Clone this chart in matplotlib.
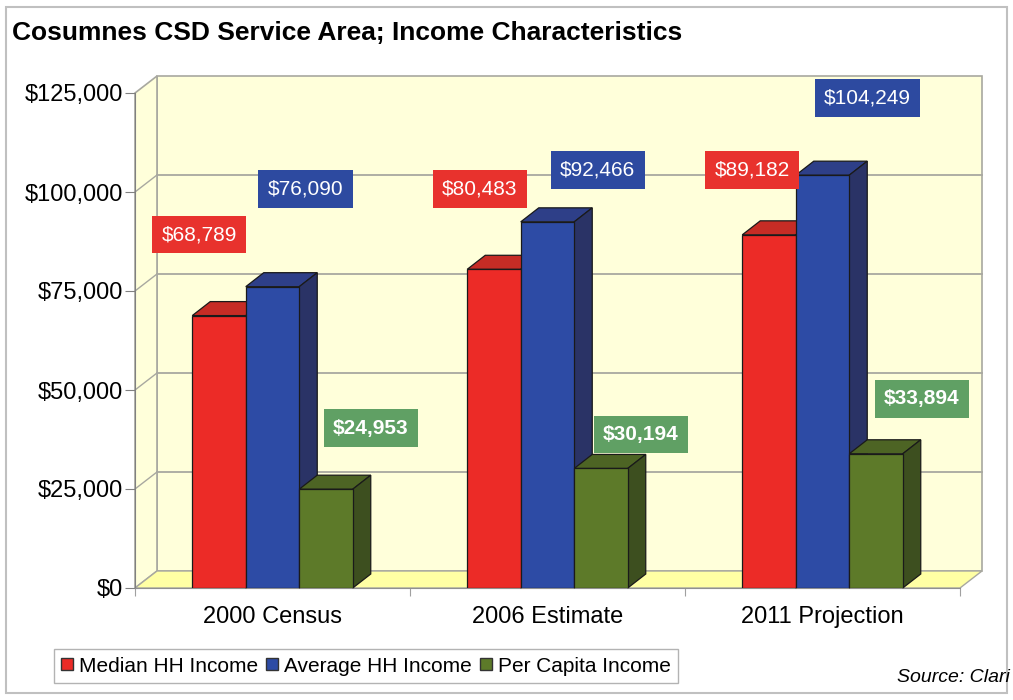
import matplotlib
matplotlib.use('Agg')
import matplotlib.pyplot as plt
from matplotlib.patches import Polygon, Patch, Rectangle
from matplotlib.ticker import FuncFormatter

plt.rcParams['font.family'] = ['Liberation Sans', 'DejaVu Sans']

# 数据
categories = ['2000 Census', '2006 Estimate', '2011 Projection']
series_names = ['Median HH Income', 'Average HH Income', 'Per Capita Income']
median_hh = [68789, 80483, 89182]
average_hh = [76090, 92466, 104249]
per_capita = [24953, 30194, 33894]
y_ticks = [0, 25000, 50000, 75000, 100000, 125000]

# 颜色：正面 / 顶面 / 侧面 / 标签框
front_colors = ['#EC2B27', '#2D4BA5', '#5D7A29']
top_colors = ['#C62C25', '#2E3F88', '#4D6424']
side_colors = ['#A52420', '#2A3366', '#3D4F1F']
label_colors = ['#E8322D', '#2D4AA0', '#60A064']

# 标签相对柱顶的偏移(像素)
label_offsets = [
    [(-20, 81), (-14, 80), (-17, 65)],
    [(33, 98), (50, 52), (45, 77)],
    [(45, 61), (40, 34), (46, 55)],
]

fig = plt.figure(figsize=(10.13, 7.0), dpi=100)
W, H = 1013, 700
ax = fig.add_axes([135 / W, 112 / H, 825 / W, 495 / H])
ax.set_xlim(0, 3)
ax.set_ylim(0, 125000)
ax.set_facecolor('none')

px_x = 3 / 825          # 每像素对应的x单位
px_y = 125000 / 495     # 每像素对应的金额

# 墙和底面的纵深
wdx, wdy = 22 * px_x, 17 * px_y
# 柱子的纵深
bdx, bdy = 18 * px_x, 14 * px_y

wall_color = '#FFFFDA'
floor_color = '#FFFFA4'
grid_color = '#A8A8A0'

# 背墙、侧墙、底面
ax.add_patch(Rectangle((wdx, wdy), 3, 125000, fc=wall_color, ec=grid_color,
                       lw=1.2, clip_on=False, zorder=0))
ax.add_patch(Polygon([(0, 0), (wdx, wdy), (wdx, 125000 + wdy), (0, 125000)],
                     closed=True, fc=wall_color, ec=grid_color, lw=1.2,
                     clip_on=False, zorder=0))
ax.add_patch(Polygon([(0, 0), (3, 0), (3 + wdx, wdy), (wdx, wdy)],
                     closed=True, fc=floor_color, ec=grid_color, lw=1.0,
                     clip_on=False, zorder=1))

# 网格线
for v in y_ticks[1:-1]:
    ax.plot([wdx, 3 + wdx], [v + wdy, v + wdy], color=grid_color, lw=1.3,
            clip_on=False, zorder=1)
    ax.plot([0, wdx], [v, v + wdy], color=grid_color, lw=1.0,
            clip_on=False, zorder=1)

# 三维柱子
bar_w = 53.5 * px_x
all_values = [median_hh, average_hh, per_capita]
for k, values in enumerate(all_values):
    z = 3 + k
    xs = [i + 0.5 + (k - 1) * bar_w for i in range(len(categories))]
    for x, v in zip(xs, values):
        x0 = x - bar_w / 2
        top = [(x0, v), (x0 + bar_w, v), (x0 + bar_w + bdx, v + bdy), (x0 + bdx, v + bdy)]
        side = [(x0 + bar_w, 0), (x0 + bar_w + bdx, bdy), (x0 + bar_w + bdx, v + bdy), (x0 + bar_w, v)]
        ax.add_patch(Polygon(top, closed=True, fc=top_colors[k], ec='#1A1A1A',
                             lw=0.9, clip_on=False, zorder=z))
        ax.add_patch(Polygon(side, closed=True, fc=side_colors[k], ec='#1A1A1A',
                             lw=0.9, clip_on=False, zorder=z))
    ax.bar(xs, values, width=bar_w, color=front_colors[k], edgecolor='#1A1A1A',
           linewidth=0.9, zorder=z + 0.5, label=series_names[k])
    for i, (x, v) in enumerate(zip(xs, values)):
        dx, dy = label_offsets[k][i]
        ax.annotate(f'${v:,.0f}', xy=(x, v), xytext=(dx, dy),
                    textcoords='offset pixels', ha='center', va='center',
                    color='white', fontsize=15,
                    fontweight='bold' if k == 2 else 'normal',
                    bbox=dict(boxstyle='square,pad=0.45', fc=label_colors[k], ec='none'),
                    zorder=10, annotation_clip=False)

# 坐标轴
for s in ['top', 'right']:
    ax.spines[s].set_visible(False)
ax.spines['left'].set_color('#808080')
ax.spines['bottom'].set_color('#909090')
ax.spines['left'].set_zorder(2)
ax.spines['bottom'].set_zorder(2)

ax.set_yticks(y_ticks)
ax.yaxis.set_major_formatter(FuncFormatter(lambda v, p: f'${v:,.0f}'))
ax.tick_params(axis='y', length=7, color='#808080', pad=1.5, labelsize=17)

ax.set_xticks([0, 1, 2, 3])
ax.set_xticklabels([])
ax.set_xticks([0.5, 1.5, 2.5], minor=True)
ax.set_xticklabels(categories, minor=True)
ax.tick_params(axis='x', which='major', length=6, color='#A0A0A0')
ax.tick_params(axis='x', which='minor', length=0, pad=13, labelsize=17)

# 标题
fig.text(12 / W, 1 - 33 / H, 'Cosumnes CSD Service Area; Income Characteristics',
         fontsize=19, fontweight='bold', ha='left', va='center')

# 图例
handles = [Patch(facecolor=front_colors[k], edgecolor='#333333', label=series_names[k])
           for k in range(3)]
fig.legend(handles=handles, loc='center', bbox_to_anchor=(366 / W, 1 - 666 / H),
           ncol=3, fontsize=15, frameon=True, fancybox=False, edgecolor='#A0A0A0',
           handlelength=0.55, handleheight=0.55, handletextpad=0.3,
           columnspacing=0.4, borderpad=0.35, borderaxespad=0)

# 来源
fig.text(897 / W, 1 - 677 / H, 'Source: Clari', fontsize=14, style='italic',
         ha='left', va='center')

# 外框
fig.add_artist(Rectangle((6 / W, 7 / H), 1001 / W, 686 / H, transform=fig.transFigure,
                         fill=False, ec='#C0C0C0', lw=1.5))

fig.savefig('out.png', dpi=100)
